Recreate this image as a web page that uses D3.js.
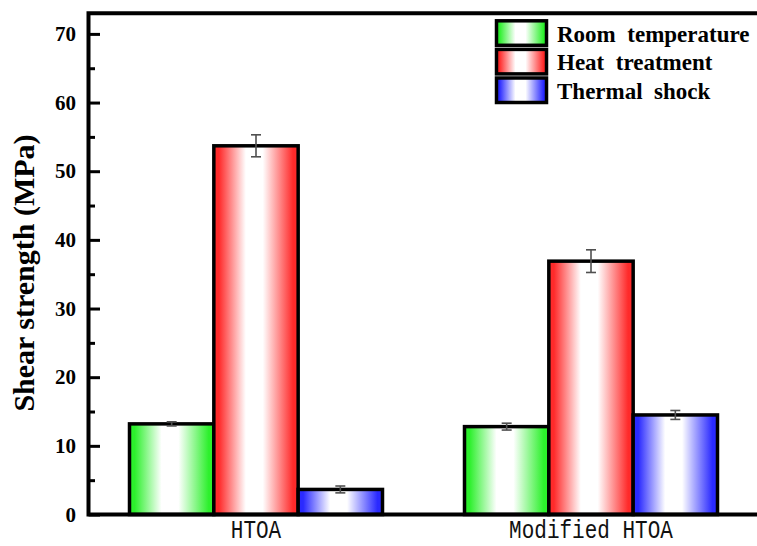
<!DOCTYPE html>
<html>
<head>
<meta charset="utf-8">
<script src="https://cdn.jsdelivr.net/npm/d3@7"></script>
<style>
  html, body { margin: 0; padding: 0; background: #ffffff; }
  svg { display: block; }
</style>
</head>
<body>
<svg id="chart" width="757" height="546"></svg>
<script>
// Sample groups and test conditions
const groups = ["HTOA", "Modified HTOA"];
const seriesNames = ["Room  temperature", "Heat  treatment", "Thermal  shock"];
const seriesColors = ["#2cf02c", "#ff2a2a", "#2a2aff"];

// Shear strength (MPa) per condition, one value per group
const roomTemp = [13.2, 12.8];
const heatTreatment = [53.7, 36.9];
const thermalShock = [3.65, 14.5];

// Standard deviations for the error bars
const roomTempErr = [0.3, 0.5];
const heatTreatmentErr = [1.6, 1.65];
const thermalShockErr = [0.5, 0.65];

// Y axis ticks
const yMajorTicks = [0, 10, 20, 30, 40, 50, 60, 70];
const yMinorTicks = [5, 15, 25, 35, 45, 55, 65];

const values = [roomTemp, heatTreatment, thermalShock];
const errors = [roomTempErr, heatTreatmentErr, thermalShockErr];

const plot = { left: 88.5, top: 13.3, right: 758.5, bottom: 514.5 };

const svg = d3.select("#chart");

const y = d3.scaleLinear().domain([0, 73]).range([plot.bottom, plot.top]);
const x0 = d3.scaleBand().domain(groups).range([plot.left, plot.right]).padding(0);
const x1 = d3.scaleBand().domain(seriesNames).range([-126.5, 126.5]).padding(0);

// Horizontal white-centred gradients for the bar fills
const defs = svg.append("defs");
seriesNames.forEach((name, i) => {
  const g = defs.append("linearGradient")
    .attr("id", "grad" + i)
    .attr("x1", "0%").attr("x2", "100%").attr("y1", "0%").attr("y2", "0%");
  const c = seriesColors[i];
  [[0, c], [0.06, c], [0.38, "#ffffff"], [0.58, "#ffffff"], [0.94, c], [1, c]]
    .forEach(([o, col]) => g.append("stop").attr("offset", o).attr("stop-color", col));
});

// Flattened bar records
const bars = [];
groups.forEach((grp, gi) => {
  seriesNames.forEach((s, si) => {
    bars.push({ group: grp, series: s, si, value: values[si][gi], err: errors[si][gi] });
  });
});

// Bars
svg.append("g").selectAll("rect")
  .data(bars)
  .join("rect")
  .attr("x", d => x0(d.group) + x0.bandwidth() / 2 + x1(d.series))
  .attr("y", d => y(d.value))
  .attr("width", x1.bandwidth())
  .attr("height", d => y(0) - y(d.value))
  .attr("fill", d => `url(#grad${d.si})`)
  .attr("stroke", "#000")
  .attr("stroke-width", 3.5);

// Error bars
const eb = svg.append("g").attr("stroke", "#505050").attr("stroke-width", 1.6);
bars.forEach(d => {
  const cx = x0(d.group) + x0.bandwidth() / 2 + x1(d.series) + x1.bandwidth() / 2;
  const y1 = y(d.value + d.err), y2 = y(d.value - d.err);
  eb.append("line").attr("x1", cx).attr("x2", cx).attr("y1", y1).attr("y2", y2);
  eb.append("line").attr("x1", cx - 5).attr("x2", cx + 5).attr("y1", y1).attr("y2", y1);
  eb.append("line").attr("x1", cx - 5).attr("x2", cx + 5).attr("y1", y2).attr("y2", y2);
});

// Y axis: major ticks with labels, minor ticks, both pointing inward
const yAxis = d3.axisLeft(y).tickValues(yMajorTicks).tickSize(-11.5).tickPadding(12.5).tickFormat(d3.format("d"));
const yAxisG = svg.append("g").attr("transform", `translate(${plot.left},0)`).call(yAxis);
yAxisG.select(".domain").remove();
yAxisG.selectAll(".tick line").attr("stroke", "#000").attr("stroke-width", 3);
yAxisG.selectAll(".tick text")
  .attr("fill", "#000")
  .style("font-family", "'Liberation Serif', 'Times New Roman', serif")
  .style("font-weight", "bold")
  .style("font-size", "21px");

const yMinor = d3.axisLeft(y).tickValues(yMinorTicks).tickSize(-6.5).tickFormat("");
const yMinorG = svg.append("g").attr("transform", `translate(${plot.left},0)`).call(yMinor);
yMinorG.select(".domain").remove();
yMinorG.selectAll(".tick line").attr("stroke", "#000").attr("stroke-width", 3);

// X axis labels
const xAxis = d3.axisBottom(x0).tickSize(0).tickPadding(0);
const xAxisG = svg.append("g").attr("transform", `translate(0,${plot.bottom})`).call(xAxis);
xAxisG.select(".domain").remove();
xAxisG.selectAll(".tick text")
  .attr("y", 23.5)
  .attr("dy", null)
  .attr("fill", "#111")
  .attr("transform", "scale(0.84,1)")
  .style("font-family", "'Liberation Mono', 'DejaVu Sans Mono', monospace")
  .style("font-size", "25px");

// Frame: left axis line plus top and bottom lines running to the right edge
const frame = svg.append("g").attr("stroke", "#000").attr("stroke-width", 4).attr("fill", "none");
frame.append("path")
  .attr("d", `M${plot.right},${plot.top}H${plot.left}V${plot.bottom}H${plot.right}`)
  .attr("stroke-linejoin", "miter");

// Y axis title
svg.append("text")
  .attr("transform", `translate(34,273) rotate(-90)`)
  .attr("text-anchor", "middle")
  .attr("fill", "#000")
  .style("font-family", "'Liberation Serif', 'Times New Roman', serif")
  .style("font-weight", "bold")
  .style("font-size", "30px")
  .text("Shear strength (MPa)");

// Legend
const legend = svg.append("g");
seriesNames.forEach((name, i) => {
  const ly = 20.8 + i * 28.6;
  legend.append("rect")
    .attr("x", 496.5).attr("y", ly)
    .attr("width", 50).attr("height", 24.5)
    .attr("fill", `url(#grad${i})`)
    .attr("stroke", "#000").attr("stroke-width", 3.5);
  legend.append("text")
    .attr("x", 557).attr("y", ly + 20.8)
    .attr("fill", "#000")
    .style("white-space", "pre")
    .style("font-family", "'Liberation Serif', 'Times New Roman', serif")
    .style("font-weight", "bold")
    .style("font-size", "23px")
    .text(name);
});
</script>
</body>
</html>
